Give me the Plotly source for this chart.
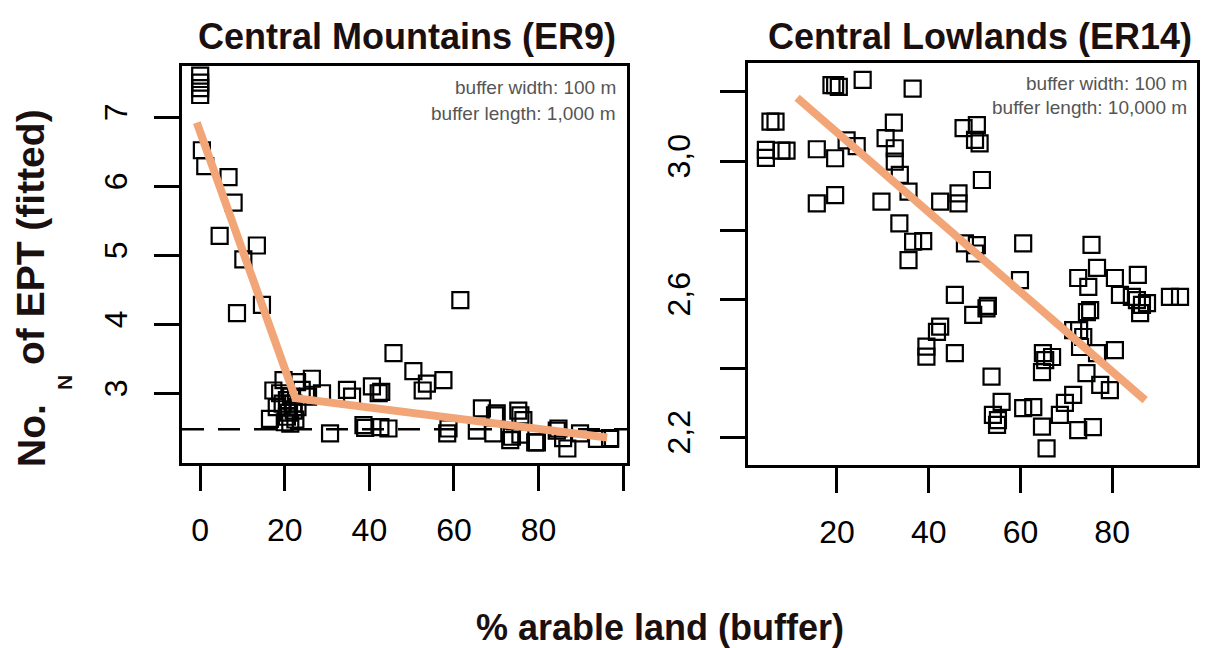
import plotly.graph_objects as go

W, H = 1209, 648

# ---------------- data ----------------
# Central Mountains (ER9)
cm_x = [0, 0, 0, 0, 0.4, 1.2, 6.7, 7.9, 4.6, 13.4, 10.2, 14.6, 8.7,
        61.5, 45.7, 50.4, 57.5, 53.6, 52.6, 40.6, 42.2, 42.8, 34.7, 35.9,
        26.4, 28.8, 22.9, 19.7, 17.3, 18.9, 18.1, 20.5, 22.1, 20.5, 16.5, 21.3,
        21.5, 22.0, 19.5, 21.0, 22.5, 20.0, 23.0, 24.0, 25.5,
        30.7, 38.6, 39.0, 42.6, 44.5, 58.7, 58.4, 65.4, 66.6, 70.1, 69.7, 69.3,
        75.2, 75.7, 76.4, 73.7, 73.3, 75.7, 79.6, 79.2, 84.3, 84.7, 85.8, 86.8,
        89.8, 93.8, 96.9, 96.9]
cm_y = [7.60, 7.50, 7.42, 7.32, 6.52, 6.29, 6.13, 5.76, 5.28, 5.14, 4.94, 4.28, 4.16,
        4.35, 3.58, 3.32, 3.19, 3.14, 3.04, 3.10, 3.00, 3.02, 3.05, 2.95,
        3.21, 3.00, 3.16, 3.19, 3.04, 3.00, 2.80, 2.90, 2.75, 2.66, 2.63, 2.56,
        2.95, 2.85, 2.85, 2.72, 2.62, 2.58, 2.80, 3.05, 2.95,
        2.42, 2.54, 2.50, 2.51, 2.49, 2.49, 2.42, 2.46, 2.78, 2.71, 2.68, 2.42,
        2.75, 2.68, 2.61, 2.37, 2.32, 2.40, 2.29, 2.29, 2.46, 2.49, 2.35, 2.20,
        2.42, 2.34, 2.34, 2.35]
cm_fit_x = [-0.8, 22.5, 96.2]
cm_fit_y = [6.92, 2.93, 2.36]
cm_ref_y = 2.48

# Central Lowlands (ER14)
cl_x = [18.8, 19.6, 20.4, 25.6, 36.5,
        5.5, 6.6, 4.5, 4.5, 7.9, 9.0, 15.6, 19.6, 22.1, 24.3,
        32.4, 30.6, 32.6, 32.6, 33.7, 35.6,
        15.6, 19.6, 29.7, 33.6, 36.6, 38.8, 35.6,
        42.5, 46.5, 46.5, 47.6, 50.5, 50.1, 51.1, 51.6,
        47.9, 50.5, 50.1, 60.6, 59.9,
        45.7, 49.7, 52.6, 52.9, 42.5, 41.8, 39.5, 39.5, 45.7,
        53.7, 55.9, 54.0, 55.1, 54.9, 60.6, 62.8, 64.7, 65.7,
        64.9, 65.4, 66.9, 64.7,
        68.6, 69.7, 71.5, 72.6, 75.8, 74.4, 77.4, 79.5, 80.6,
        73.0, 76.7, 71.5, 72.8, 73.7, 74.5, 75.2, 75.5,
        72.6, 74.8, 76.7, 80.6, 85.6, 81.7,
        84.3, 85.4, 86.5, 86.1, 87.6, 92.6, 94.8]
cl_y = [3.220, 3.220, 3.215, 3.235, 3.210,
        3.114, 3.114, 3.032, 3.009, 3.030, 3.030, 3.034, 3.008, 3.060, 3.043,
        3.111, 3.066, 3.037, 2.998, 2.960, 2.911,
        2.877, 2.901, 2.882, 2.819, 2.766, 2.768, 2.713,
        2.882, 2.906, 2.877, 3.095, 3.104, 3.061, 3.051, 2.945,
        2.761, 2.756, 2.732, 2.761, 2.655,
        2.612, 2.554, 2.573, 2.580, 2.520, 2.505, 2.462, 2.433, 2.443,
        2.375, 2.302, 2.264, 2.249, 2.235, 2.284, 2.287, 2.230, 2.167,
        2.443, 2.423, 2.432, 2.388,
        2.264, 2.299, 2.322, 2.220, 2.229, 2.385, 2.351, 2.336, 2.452,
        2.461, 2.443, 2.510, 2.510, 2.490, 2.562, 2.568, 2.757,
        2.661, 2.635, 2.690, 2.661, 2.670, 2.612,
        2.606, 2.597, 2.583, 2.559, 2.588, 2.606, 2.606]
cl_fit_x = [11.3, 87.2]
cl_fit_y = [3.183, 2.307]

left_xticks = [0, 20, 40, 60, 80]
left_xtext = ["0", "20", "40", "60", "80"]
left_xticks_unlabelled = [100]
left_yticks = [3, 4, 5, 6, 7]
left_ytext = ["3", "4", "5", "6", "7"]
right_xticks = [20, 40, 60, 80]
right_xtext = ["20", "40", "60", "80"]
right_yticks = [2.2, 2.6, 3.0]
right_ytext = ["2,2", "2,6", "3,0"]
right_yticks_unlabelled = [2.4, 2.8, 3.2]

titles = ["Central Mountains (ER9)", "Central Lowlands (ER14)"]
notes = [("buffer width: 100 m", "buffer length: 1,000 m"),
         ("buffer width: 100 m", "buffer length: 10,000 m")]
ytitle_parts = ("No.", "N", "of EPT (fitted)")
xtitle = "% arable land (buffer)"

# ---------------- style ----------------
FONT = "Liberation Sans, Arial, sans-serif"
ORANGE = "#F2A576"
TXT = "#1a1010"
marker = dict(symbol="square-open", size=16, color="black", line=dict(width=2.2, color="black"))


def px(x):
    return x / W


def py(y):
    return 1 - y / H


fig = go.Figure()
fig.add_trace(go.Scatter(x=cm_x, y=cm_y, mode="markers", marker=marker,
                         xaxis="x", yaxis="y", showlegend=False))
fig.add_trace(go.Scatter(x=cm_fit_x, y=cm_fit_y, mode="lines",
                         line=dict(color=ORANGE, width=8), xaxis="x", yaxis="y", showlegend=False))
fig.add_trace(go.Scatter(x=cl_x, y=cl_y, mode="markers", marker=marker,
                         xaxis="x2", yaxis="y2", showlegend=False))
fig.add_trace(go.Scatter(x=cl_fit_x, y=cl_fit_y, mode="lines",
                         line=dict(color=ORANGE, width=8), xaxis="x2", yaxis="y2", showlegend=False))

axis_common = dict(showline=True, mirror=True, linecolor="black", linewidth=2.5,
                   ticks="outside", ticklen=25, tickwidth=2.5, tickcolor="black",
                   showgrid=False, zeroline=False,
                   tickfont=dict(family=FONT, size=32, color="black"))


def minor(vals):
    return dict(tickvals=vals, ticks="outside", ticklen=25, tickwidth=2.5,
                tickcolor="black", showgrid=False)


fig.update_layout(
    width=W, height=H,
    margin=dict(l=0, r=0, t=0, b=0),
    paper_bgcolor="white", plot_bgcolor="white",
    xaxis=dict(domain=[px(182), px(627)], range=[-4.3, 100.9], anchor="y",
               tickvals=left_xticks, ticktext=left_xtext, ticklabelstandoff=12,
               minor=minor(left_xticks_unlabelled), **axis_common),
    yaxis=dict(domain=[py(463), py(66)], range=[1.99, 7.74], anchor="x",
               tickvals=left_yticks, ticktext=left_ytext, tickangle=-90,
               ticklabelstandoff=14, **axis_common),
    xaxis2=dict(domain=[px(748), px(1197)], range=[0.6, 98.5], anchor="y2",
                tickvals=right_xticks, ticktext=right_xtext, ticklabelstandoff=12, **axis_common),
    yaxis2=dict(domain=[py(465), py(63)], range=[2.119, 3.284], anchor="x2",
                tickvals=right_yticks, ticktext=right_ytext, tickangle=-90,
                ticklabelstandoff=17, minor=minor(right_yticks_unlabelled), **axis_common),
)

fig.add_shape(type="line", xref="x domain", yref="y", x0=0, x1=1, y0=cm_ref_y, y1=cm_ref_y,
              line=dict(color="black", width=2.5, dash="22px,14px"), layer="below")


def text_at(x, y, t, size, color=TXT, angle=0, xanchor="center", yanchor="middle", bold=True):
    fig.add_annotation(x=px(x), y=py(y), xref="paper", yref="paper", showarrow=False,
                       xanchor=xanchor, yanchor=yanchor, textangle=angle,
                       text=("<b>%s</b>" % t) if bold else t,
                       font=dict(family=FONT, size=size, color=color))


text_at(407, 36, titles[0], 36)
text_at(980, 36, titles[1], 36)
text_at(660, 627, xtitle, 36)

# y-axis title: "No." + subscript "N" + "of EPT (fitted)" (rotated, read bottom-to-top)
text_at(31, 436, ytitle_parts[0], 39, angle=-90)
text_at(64, 383, ytitle_parts[1], 21, angle=-90)
text_at(31, 237, ytitle_parts[2], 39, angle=-90)

for (l1, l2), xr, y1, y2 in [(notes[0], 618, 87, 113), (notes[1], 1189, 83, 108)]:
    text_at(xr, y1, l1, 19, color="#555555", xanchor="right", bold=False)
    text_at(xr, y2, l2, 19, color="#555555", xanchor="right", bold=False)

fig.write_html("out.html")
